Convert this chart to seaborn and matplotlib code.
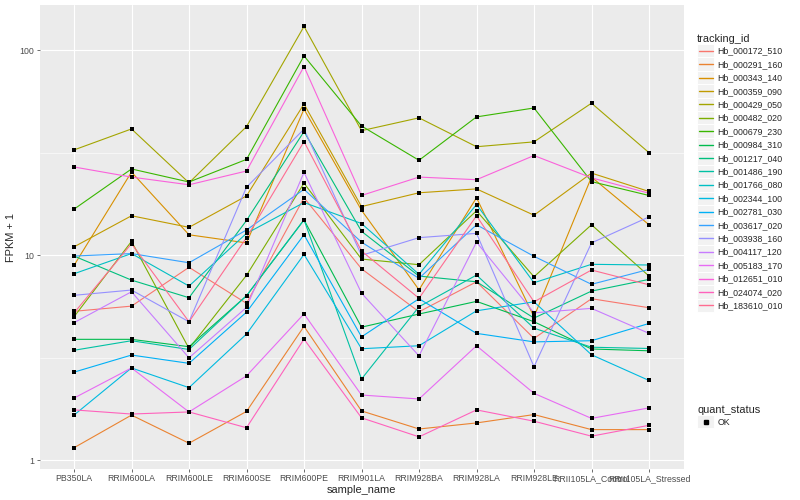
import numpy as np
import pandas as pd
import matplotlib
matplotlib.use('Agg')
import matplotlib.pyplot as plt
import seaborn as sns
from matplotlib.lines import Line2D
from matplotlib.patches import Rectangle
from matplotlib.legend_handler import HandlerBase
from matplotlib.ticker import FixedLocator, NullFormatter

samples = ['PB350LA', 'RRIM600LA', 'RRIM600LE', 'RRIM600SE', 'RRIM600PE', 'RRIM901LA',
           'RRIM928BA', 'RRIM928LA', 'RRIM928LE', 'RRII105LA_Control', 'RRII105LA_Stressed']

tracking_ids = ['Hb_000172_510', 'Hb_000291_160', 'Hb_000343_140', 'Hb_000359_090',
                'Hb_000429_050', 'Hb_000482_020', 'Hb_000679_230', 'Hb_000984_310',
                'Hb_001217_040', 'Hb_001486_190', 'Hb_001766_080', 'Hb_002344_100',
                'Hb_002781_030', 'Hb_003617_020', 'Hb_003938_160', 'Hb_004117_120',
                'Hb_005183_170', 'Hb_012651_010', 'Hb_024074_020', 'Hb_183610_010']

# FPKM + 1 per sample (same order as samples)
hb_000172_510 = [5.33, 5.65, 8.74, 5.83, 19.1, 8.60, 5.30, 7.43, 3.93, 6.14, 5.55]
hb_000291_160 = [1.15, 1.66, 1.21, 1.73, 4.50, 1.74, 1.42, 1.52, 1.67, 1.41, 1.41]
hb_000343_140 = [8.93, 25.5, 12.6, 11.5, 51.7, 16.6, 6.79, 19.1, 5.01, 24.1, 14.1]
hb_000359_090 = [11.0, 15.6, 13.7, 19.5, 54.8, 17.3, 20.2, 21.1, 15.7, 25.2, 20.5]
hb_000429_050 = [32.7, 41.4, 22.6, 42.5, 131.0, 40.6, 46.9, 33.9, 35.8, 55.3, 31.7]
hb_000482_020 = [5.01, 11.7, 3.51, 7.99, 22.5, 9.59, 9.00, 16.5, 7.86, 14.1, 7.92]
hb_000679_230 = [16.8, 26.4, 22.8, 29.4, 94.1, 42.8, 29.1, 47.4, 52.4, 22.9, 19.6]
hb_000984_310 = [3.89, 3.89, 3.58, 6.35, 14.9, 4.46, 5.17, 5.96, 4.74, 3.49, 3.42]
hb_001217_040 = [9.92, 7.57, 6.21, 14.8, 40.2, 13.1, 7.92, 7.43, 4.94, 6.69, 7.63]
hb_001486_190 = [3.44, 3.83, 3.47, 6.35, 14.9, 2.49, 5.61, 8.01, 4.41, 3.56, 3.51]
hb_001766_080 = [8.13, 10.2, 7.08, 12.8, 18.1, 14.3, 8.08, 17.7, 7.35, 9.04, 8.97]
hb_002344_100 = [1.66, 2.82, 2.26, 4.13, 10.1, 3.50, 3.62, 5.36, 5.93, 3.27, 2.45]
hb_002781_030 = [2.69, 3.26, 2.97, 5.28, 12.6, 4.00, 6.14, 4.16, 3.78, 3.83, 4.65]
hb_003617_020 = [9.92, 10.2, 9.20, 13.3, 21.0, 11.6, 7.72, 14.1, 9.89, 7.22, 8.54]
hb_003938_160 = [6.38, 6.77, 4.74, 21.5, 41.3, 10.0, 12.2, 12.8, 2.86, 11.5, 15.4]
hb_004117_120 = [4.69, 6.64, 3.16, 5.57, 25.4, 6.54, 3.23, 11.6, 5.24, 5.51, 4.16]
hb_005183_170 = [2.01, 2.82, 1.72, 2.58, 5.18, 2.08, 1.99, 3.62, 2.12, 1.60, 1.80]
hb_012651_010 = [27.0, 24.1, 22.1, 25.8, 83.5, 19.6, 24.1, 23.4, 30.7, 23.9, 20.1]
hb_024074_020 = [1.76, 1.68, 1.72, 1.44, 3.90, 1.61, 1.30, 1.76, 1.55, 1.31, 1.48]
hb_183610_010 = [5.23, 11.4, 4.74, 12.2, 35.9, 10.5, 6.17, 15.6, 5.93, 8.48, 7.18]

series = [hb_000172_510, hb_000291_160, hb_000343_140, hb_000359_090, hb_000429_050,
          hb_000482_020, hb_000679_230, hb_000984_310, hb_001217_040, hb_001486_190,
          hb_001766_080, hb_002344_100, hb_002781_030, hb_003617_020, hb_003938_160,
          hb_004117_120, hb_005183_170, hb_012651_010, hb_024074_020, hb_183610_010]

quant_status = ['OK']

# ggplot2 default hue palette for 20 levels
palette = ['#F8766D', '#EA8331', '#D89000', '#C09B00', '#A3A500', '#7CAE00', '#39B600',
           '#00BB4E', '#00BF7D', '#00C1A3', '#00BFC4', '#00BAE0', '#00B0F6', '#35A2FF',
           '#9590FF', '#C77CFF', '#E76BF3', '#FA62DB', '#FF62BC', '#FF6C91']

rows = []
for tid, vals in zip(tracking_ids, series):
    for s, v in zip(samples, vals):
        rows.append({'tracking_id': tid, 'sample_name': s, 'fpkm': v, 'quant_status': 'OK'})
df = pd.DataFrame(rows)

sns.set_theme(style='darkgrid')
plt.rcParams['font.family'] = ['Liberation Sans', 'DejaVu Sans']

TICK = 6.34   # 8.8 px
TITLE = 7.92  # 11 px

fig = plt.figure(figsize=(8, 5), dpi=100)
ax = fig.add_axes([39.5 / 800, 1 - 469 / 500, 644 / 800, 464 / 500])
ax.set_facecolor('#EBEBEB')

sns.lineplot(data=df, x='sample_name', y='fpkm', hue='tracking_id', hue_order=tracking_ids,
             palette=palette, estimator=None, sort=False, linewidth=0.8, legend=False, ax=ax)
sns.scatterplot(data=df, x='sample_name', y='fpkm', color='black', marker='s', s=8,
                linewidth=0, legend=False, ax=ax, zorder=3)

ax.set_yscale('log')
ax.set_ylim(10 ** -0.043, 10 ** 2.222)
ax.set_xlim(-0.6, len(samples) - 0.4)
ax.yaxis.set_major_locator(FixedLocator([1, 10, 100]))
ax.set_yticklabels(['1', '10', '100'])
ax.yaxis.set_minor_locator(FixedLocator([10 ** 0.5, 10 ** 1.5]))
ax.yaxis.set_minor_formatter(NullFormatter())

ax.grid(which='major', color='white', linewidth=0.8)
ax.grid(which='minor', axis='y', color='white', linewidth=0.4)
ax.grid(which='minor', axis='x', visible=False)
for sp in ax.spines.values():
    sp.set_visible(False)

ax.tick_params(axis='both', which='major', length=2, width=0.5, color='#333333',
               pad=1.6, labelsize=TICK, labelcolor='#4D4D4D', bottom=True, left=True)
ax.tick_params(axis='y', which='minor', length=0)
ax.set_xlabel('sample_name', fontsize=TITLE, labelpad=1.5)
ax.set_ylabel('FPKM + 1', fontsize=TITLE, labelpad=3)


class KeyHandler(HandlerBase):
    def create_artists(self, legend, orig_handle, xdescent, ydescent, width, height, fontsize, trans):
        box = Rectangle((-xdescent, -ydescent), width, height, facecolor='#F2F2F2',
                        edgecolor='white', linewidth=0.7, transform=trans)
        y = -ydescent + height / 2
        if orig_handle.get_marker() not in (None, 'None', ''):
            mark = Line2D([-xdescent + width / 2], [y], marker='s', markersize=2.6,
                          color='black', linestyle='None', transform=trans)
        else:
            mark = Line2D([-xdescent + 1.2, -xdescent + width - 1.2], [y, y],
                          color=orig_handle.get_color(), linewidth=1.0, transform=trans)
        return [box, mark]


line_handles = [Line2D([], [], color=c) for c in palette]
leg1 = fig.legend(line_handles, tracking_ids, title='tracking_id', loc='upper left',
                  bbox_to_anchor=(697 / 800, 1 - 34 / 500), frameon=False,
                  fontsize=TICK, title_fontsize=TITLE, alignment='left',
                  handlelength=1.966, handleheight=1.966, labelspacing=0,
                  handletextpad=0.35, borderpad=0, borderaxespad=0,
                  handler_map={Line2D: KeyHandler()})

point_handles = [Line2D([], [], marker='s', color='black', linestyle='None')]
leg2 = fig.legend(point_handles, quant_status, title='quant_status', loc='upper left',
                  bbox_to_anchor=(697 / 800, 1 - 405 / 500), frameon=False,
                  fontsize=TICK, title_fontsize=TITLE, alignment='left',
                  handlelength=1.966, handleheight=1.966, labelspacing=0,
                  handletextpad=0.35, borderpad=0, borderaxespad=0,
                  handler_map={Line2D: KeyHandler()})

fig.savefig('out.png', dpi=100)
